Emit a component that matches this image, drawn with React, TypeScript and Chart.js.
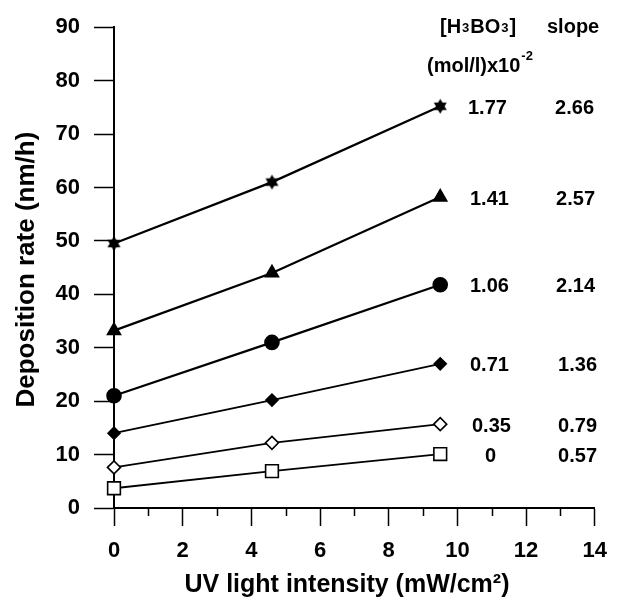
import { useEffect, useRef } from 'react';
import { Chart, registerables } from 'chart.js';

Chart.register(...registerables);

// ---- data ----
const intensity = [0, 4.6, 9.5];
const concentrations = ['1.77', '1.41', '1.06', '0.71', '0.35', '0'];
const slopes = ['2.66', '2.57', '2.14', '1.36', '0.79', '0.57'];
const rate177 = [49.5, 61, 75.2];
const rate141 = [33.2, 44, 58.2];
const rate106 = [21, 31, 41.8];
const rate071 = [14, 20.2, 27.0];
const rate035 = [7.6, 12.2, 15.7];
const rate000 = [3.7, 6.9, 10.1];
const xMinorTicks = [1, 3, 5, 7, 9, 11, 13];

const FONT = '"Liberation Sans", Arial, Helvetica, sans-serif';

function makeStar(): HTMLCanvasElement {
  const c = document.createElement('canvas');
  c.width = 17;
  c.height = 17;
  const g = c.getContext('2d')!;
  const cx = 8.5, cy = 8.5, r = 7.5;
  g.fillStyle = '#000';
  for (let t = 0; t < 2; t++) {
    g.beginPath();
    for (let k = 0; k < 3; k++) {
      const a = -Math.PI / 2 + t * Math.PI + (k * 2 * Math.PI) / 3;
      const px = cx + r * Math.cos(a);
      const py = cy + r * Math.sin(a);
      if (k === 0) g.moveTo(px, py);
      else g.lineTo(px, py);
    }
    g.closePath();
    g.fill();
  }
  return c;
}

const labelPlugin = {
  id: 'labelPlugin',
  afterDraw(chart: any) {
    const ctx = chart.ctx as CanvasRenderingContext2D;
    ctx.save();
    ctx.fillStyle = '#000';
    // axis titles
    ctx.font = `bold 26px ${FONT}`;
    ctx.textAlign = 'center';
    ctx.textBaseline = 'alphabetic';
    ctx.save();
    ctx.translate(34, (chart.chartArea.top + chart.chartArea.bottom) / 2 + 2);
    ctx.rotate(-Math.PI / 2);
    ctx.fillText('Deposition rate (nm/h)', 0, 0);
    ctx.restore();
    ctx.font = `bold 25px ${FONT}`;
    ctx.fillText('UV light intensity (mW/cm\u00B2)', 347, 592);

    // header
    const big = `bold 20px ${FONT}`;
    const small = `bold 13px ${FONT}`;
    ctx.textAlign = 'left';
    ctx.textBaseline = 'alphabetic';
    let x = 440;
    const base1 = 33;
    const parts: [string, string][] = [
      ['[H', big], ['3', small], ['BO', big], ['3', small], [']', big],
    ];
    for (const [t, f] of parts) {
      ctx.font = f;
      if (f === small) x += 1;
      ctx.fillText(t, x, f === small ? base1 - 1 : base1);
      x += ctx.measureText(t).width + (f === small ? 1 : 0);
    }
    ctx.font = big;
    ctx.fillText('slope', 547, base1);
    ctx.fillText('(mol/l)x10', 427, 72);
    const w = ctx.measureText('(mol/l)x10').width;
    ctx.font = small;
    ctx.fillText('-2', 427 + w + 1, 60);

    // row labels
    const concX = [468, 470, 470, 470, 472, 485];
    const slopeRight = [594, 595, 595, 597, 597, 597];
    ctx.font = big;
    ctx.textBaseline = 'middle';
    chart.data.datasets.forEach((_: any, i: number) => {
      const meta = chart.getDatasetMeta(i);
      const p = meta.data[meta.data.length - 1];
      const y = p.y + 2;
      ctx.textAlign = 'left';
      ctx.fillText(concentrations[i], concX[i], y);
      ctx.textAlign = 'right';
      ctx.fillText(slopes[i], slopeRight[i], y);
    });

    // minor x ticks
    const xs = chart.scales.x;
    const bottom = chart.chartArea.bottom;
    ctx.strokeStyle = '#000';
    ctx.lineWidth = 1.5;
    ctx.beginPath();
    xMinorTicks.forEach((v) => {
      const px = Math.round(xs.getPixelForValue(v)) + 0.5;
      ctx.moveTo(px, bottom);
      ctx.lineTo(px, bottom + 8);
    });
    ctx.stroke();
    ctx.restore();
  },
};

export default function App() {
  const ref = useRef<HTMLCanvasElement | null>(null);
  useEffect(() => {
    if (!ref.current) return;
    const star = makeStar();
    const series = [rate177, rate141, rate106, rate071, rate035, rate000];
    const styles: any[] = [
      { pointStyle: star, pointRadius: 8, bg: '#000' },
      { pointStyle: 'triangle', pointRadius: 7.5, bg: '#000' },
      { pointStyle: 'circle', pointRadius: 7, bg: '#000' },
      { pointStyle: 'rectRot', pointRadius: 6, bg: '#000' },
      { pointStyle: 'rectRot', pointRadius: 6.5, bg: '#fff' },
      { pointStyle: 'rect', pointRadius: 9, bg: '#fff' },
    ];
    const datasets = series.map((arr, i) => ({
      label: concentrations[i],
      data: intensity.map((x, k) => ({ x, y: arr[k] })),
      borderColor: '#000',
      borderWidth: i < 3 ? 2.2 : 1.8,
      showLine: true,
      tension: 0,
      fill: false,
      clip: false as any,
      pointStyle: styles[i].pointStyle,
      pointRadius: styles[i].pointRadius,
      pointBackgroundColor: styles[i].bg,
      pointBorderColor: '#000',
      pointBorderWidth: 1.6,
    }));
    const chart = new Chart(ref.current, {
      type: 'line',
      data: { datasets },
      options: {
        animation: false,
        responsive: false,
        layout: { padding: { top: 22, right: 15, left: 0, bottom: 0 } },
        plugins: { legend: { display: false }, tooltip: { enabled: false } },
        scales: {
          x: {
            type: 'linear',
            min: 0,
            max: 14,
            afterFit: (s: any) => { s.height = 91; },
            grid: { drawOnChartArea: false, drawTicks: true, tickLength: 18, tickColor: '#000', tickWidth: 1.5 },
            border: { display: true, color: '#000', width: 2 },
            ticks: { stepSize: 2, color: '#000', padding: 12, font: { family: FONT, size: 22, weight: 'bold' } },
          },
          y: {
            type: 'linear',
            min: 0,
            max: 90,
            afterFit: (s: any) => { s.width = 114; },
            grid: { drawOnChartArea: false, drawTicks: true, tickLength: 20, tickColor: '#000', tickWidth: 1.5 },
            border: { display: true, color: '#000', width: 2 },
            ticks: { stepSize: 10, color: '#000', padding: 14, font: { family: FONT, size: 22, weight: 'bold' } },
          },
        },
      },
      plugins: [labelPlugin],
    });
    return () => chart.destroy();
  }, []);
  return (
    <div style={{ position: 'fixed', left: 0, top: 0, width: 619, height: 599, background: '#fff' }}>
      <canvas ref={ref} width={619} height={599} style={{ width: 619, height: 599 }} />
    </div>
  );
}
